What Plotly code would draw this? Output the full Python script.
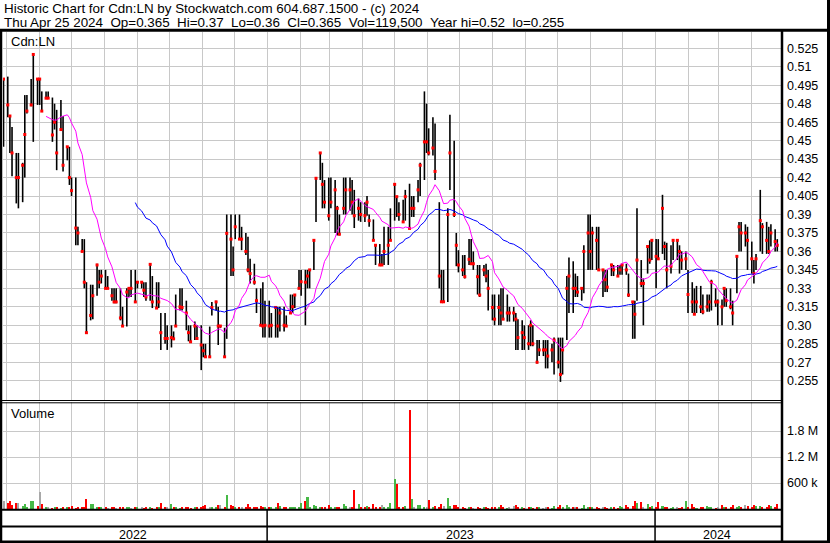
import pandas as pd
import numpy as np
import plotly.graph_objects as go

W, H = 830, 543

# ---- data (every second trading day, Apr 2022 - Apr 25 2024) ----
highs = [
    0.50, 0.502, 0.47, 0.461, 0.44, 0.44, 0.432, 0.487, 0.487, 0.50,
    0.52, 0.50, 0.50, 0.49, 0.49, 0.49, 0.485, 0.48, 0.475, 0.483,
    0.47, 0.445, 0.445, 0.42, 0.42, 0.38, 0.37, 0.37, 0.335, 0.333,
    0.333, 0.35, 0.345, 0.345, 0.345, 0.34, 0.33, 0.33, 0.33, 0.33,
    0.315, 0.33, 0.33, 0.345, 0.345, 0.335, 0.335, 0.335, 0.335, 0.35,
    0.34, 0.335, 0.335, 0.31, 0.31, 0.30, 0.30, 0.295, 0.325, 0.33,
    0.33, 0.32, 0.30, 0.30, 0.303, 0.30, 0.30, 0.285, 0.285, 0.299,
    0.319, 0.32, 0.315, 0.30, 0.298, 0.39, 0.39, 0.364, 0.39, 0.39,
    0.38, 0.375, 0.372, 0.354, 0.35, 0.33, 0.33, 0.335, 0.32, 0.32,
    0.31, 0.315, 0.315, 0.315, 0.315, 0.308, 0.325, 0.325, 0.325, 0.345,
    0.345, 0.345, 0.345, 0.345, 0.37, 0.42, 0.44, 0.432, 0.418, 0.42,
    0.42, 0.418, 0.397, 0.39, 0.42, 0.42, 0.42, 0.418, 0.41, 0.403,
    0.40, 0.40, 0.405, 0.39, 0.386, 0.366, 0.366, 0.358, 0.38, 0.38,
    0.395, 0.415, 0.405, 0.40, 0.402, 0.41, 0.415, 0.405, 0.405, 0.418,
    0.432, 0.49, 0.48, 0.46, 0.469, 0.464, 0.40, 0.345, 0.345, 0.395,
    0.471, 0.45, 0.375, 0.361, 0.357, 0.357, 0.37, 0.37, 0.36, 0.349,
    0.349, 0.349, 0.35, 0.345, 0.325, 0.325, 0.325, 0.33, 0.33, 0.325,
    0.315, 0.315, 0.31, 0.305, 0.304, 0.30, 0.30, 0.304, 0.30, 0.288,
    0.288, 0.288, 0.288, 0.288, 0.285, 0.29, 0.29, 0.29, 0.29, 0.34,
    0.355, 0.352, 0.342, 0.34, 0.331, 0.365, 0.39, 0.39, 0.38, 0.38,
    0.38, 0.345, 0.345, 0.345, 0.35, 0.349, 0.349, 0.349, 0.35, 0.35,
    0.342, 0.319, 0.32, 0.395, 0.353, 0.338, 0.365, 0.369, 0.37, 0.37,
    0.37, 0.406, 0.368, 0.367, 0.365, 0.37, 0.37, 0.365, 0.36, 0.36,
    0.345, 0.335, 0.33, 0.332, 0.332, 0.325, 0.325, 0.325, 0.337, 0.33,
    0.321, 0.321, 0.331, 0.33, 0.33, 0.32, 0.356, 0.384, 0.384, 0.382,
    0.38, 0.368, 0.353, 0.358, 0.41, 0.383, 0.384, 0.38, 0.382, 0.378, 0.37,
]
lows = [
    0.445, 0.469, 0.44, 0.421, 0.399, 0.395, 0.40, 0.42, 0.472, 0.478,
    0.449, 0.479, 0.479, 0.474, 0.484, 0.484, 0.449, 0.459, 0.426, 0.459,
    0.425, 0.434, 0.414, 0.405, 0.365, 0.365, 0.36, 0.33, 0.294, 0.304,
    0.305, 0.324, 0.33, 0.334, 0.33, 0.33, 0.32, 0.318, 0.318, 0.304,
    0.299, 0.299, 0.323, 0.323, 0.319, 0.33, 0.33, 0.323, 0.32, 0.32,
    0.314, 0.314, 0.314, 0.28, 0.285, 0.28, 0.282, 0.288, 0.299, 0.312,
    0.312, 0.296, 0.287, 0.286, 0.288, 0.288, 0.2636, 0.274, 0.274, 0.274,
    0.308, 0.312, 0.284, 0.298, 0.274, 0.289, 0.34, 0.34, 0.37, 0.37,
    0.361, 0.357, 0.343, 0.334, 0.333, 0.31, 0.30, 0.29, 0.29, 0.29,
    0.29, 0.29, 0.29, 0.295, 0.295, 0.299, 0.31, 0.31, 0.314, 0.33,
    0.324, 0.30, 0.33, 0.33, 0.345, 0.384, 0.418, 0.395, 0.395, 0.385,
    0.395, 0.375, 0.373, 0.373, 0.39, 0.39, 0.393, 0.39, 0.379, 0.385,
    0.384, 0.384, 0.389, 0.38, 0.369, 0.349, 0.349, 0.349, 0.349, 0.349,
    0.369, 0.385, 0.388, 0.385, 0.384, 0.385, 0.378, 0.388, 0.388, 0.40,
    0.405, 0.418, 0.44, 0.438, 0.438, 0.418, 0.33, 0.319, 0.319, 0.319,
    0.41, 0.388, 0.348, 0.343, 0.34, 0.338, 0.349, 0.349, 0.345, 0.325,
    0.323, 0.34, 0.335, 0.312, 0.304, 0.30, 0.30, 0.30, 0.305, 0.303,
    0.303, 0.303, 0.28, 0.28, 0.28, 0.28, 0.28, 0.283, 0.283, 0.269,
    0.275, 0.275, 0.265, 0.265, 0.27, 0.26, 0.265, 0.254, 0.26, 0.288,
    0.31, 0.31, 0.323, 0.323, 0.32, 0.326, 0.345, 0.345, 0.345, 0.345,
    0.345, 0.323, 0.327, 0.327, 0.34, 0.34, 0.34, 0.341, 0.341, 0.341,
    0.323, 0.289, 0.289, 0.32, 0.331, 0.30, 0.342, 0.35, 0.353, 0.33,
    0.353, 0.358, 0.353, 0.33, 0.342, 0.353, 0.353, 0.342, 0.345, 0.345,
    0.31, 0.31, 0.309, 0.31, 0.31, 0.309, 0.311, 0.311, 0.312, 0.315,
    0.30, 0.30, 0.315, 0.315, 0.313, 0.30, 0.326, 0.36, 0.36, 0.364,
    0.345, 0.342, 0.334, 0.345, 0.36, 0.358, 0.358, 0.358, 0.364, 0.36, 0.36,
]
closes = [
    0.50, 0.479, 0.47, 0.44, 0.42, 0.42, 0.43, 0.455, 0.474, 0.479,
    0.52, 0.50, 0.50, 0.474, 0.4845, 0.4845, 0.4546, 0.465, 0.44, 0.459,
    0.43, 0.445, 0.42, 0.4094, 0.379, 0.375, 0.36, 0.335, 0.294, 0.308,
    0.324, 0.349, 0.335, 0.34, 0.33, 0.33, 0.324, 0.319, 0.319, 0.306,
    0.2994, 0.327, 0.33, 0.33, 0.319, 0.335, 0.335, 0.3285, 0.323, 0.3495,
    0.319, 0.314, 0.319, 0.294, 0.2893, 0.2893, 0.29, 0.289, 0.2994, 0.315,
    0.3145, 0.31, 0.294, 0.2866, 0.2994, 0.2893, 0.284, 0.2793, 0.2744, 0.2744,
    0.3145, 0.319, 0.2994, 0.2994, 0.2744, 0.3747, 0.37, 0.345, 0.38, 0.37,
    0.37, 0.36, 0.345, 0.342, 0.335, 0.32, 0.30, 0.2994, 0.30, 0.2994,
    0.30, 0.3145, 0.2994, 0.31, 0.30, 0.2994, 0.31, 0.3151, 0.3246, 0.33,
    0.3354, 0.335, 0.34, 0.345, 0.369, 0.4194, 0.44, 0.4145, 0.40, 0.389,
    0.40, 0.41, 0.395, 0.374, 0.395, 0.41, 0.41, 0.40, 0.389, 0.395,
    0.39, 0.389, 0.40, 0.385, 0.369, 0.365, 0.349, 0.349, 0.36, 0.365,
    0.369, 0.4145, 0.4045, 0.39, 0.384, 0.4045, 0.3787, 0.395, 0.395, 0.41,
    0.43, 0.449, 0.449, 0.44, 0.444, 0.425, 0.34, 0.3191, 0.3191, 0.39,
    0.44, 0.39, 0.365, 0.349, 0.345, 0.3395, 0.3536, 0.35, 0.35, 0.3395,
    0.3246, 0.345, 0.34, 0.33, 0.3145, 0.305, 0.3145, 0.31, 0.305, 0.31,
    0.31, 0.31, 0.305, 0.29, 0.294, 0.29, 0.285, 0.30, 0.285, 0.27,
    0.28, 0.28, 0.28, 0.275, 0.28, 0.288, 0.27, 0.26, 0.28, 0.33,
    0.34, 0.33, 0.33, 0.327, 0.33, 0.36, 0.375, 0.36, 0.375, 0.369,
    0.345, 0.345, 0.337, 0.331, 0.349, 0.345, 0.34, 0.345, 0.349, 0.345,
    0.3246, 0.319, 0.309, 0.353, 0.334, 0.334, 0.364, 0.353, 0.369, 0.356,
    0.354, 0.395, 0.364, 0.345, 0.348, 0.369, 0.369, 0.36, 0.353, 0.354,
    0.325, 0.319, 0.309, 0.319, 0.315, 0.311, 0.315, 0.319, 0.335, 0.319,
    0.319, 0.315, 0.33, 0.32, 0.315, 0.31, 0.356, 0.38, 0.375, 0.375,
    0.369, 0.354, 0.342, 0.354, 0.385, 0.38, 0.369, 0.36, 0.375, 0.368, 0.365,
]
volumes_k = [
    185, 150, 185, 90, 150, 140, 60, 110, 40, 195,
    180, 60, 400, 110, 30, 25, 20, 30, 25, 20,
    25, 40, 30, 60, 20, 35, 40, 30, 230, 120,
    120, 40, 30, 25, 45, 20, 30, 35, 20, 25,
    40, 25, 30, 20, 35, 25, 30, 20, 40, 25,
    20, 30, 25, 150, 30, 25, 120, 30, 25, 20,
    30, 25, 40, 20, 30, 25, 40, 60, 100, 45,
    30, 25, 100, 100, 40, 320, 100, 60, 40, 30,
    40, 30, 120, 35, 30, 40, 60, 30, 40, 25,
    30, 40, 150, 60, 40, 30, 35, 40, 30, 50,
    130, 195, 280, 40, 100, 60, 40, 30, 35, 100,
    30, 40, 50, 40, 120, 60, 35, 30, 440, 120,
    40, 30, 60, 40, 120, 30, 40, 100, 30, 40,
    140, 690, 575, 40, 30, 60, 2280, 230, 30, 100,
    90, 40, 30, 210, 40, 70, 40, 120, 80, 250,
    60, 90, 100, 30, 25, 20, 30, 25, 20, 30,
    20, 25, 30, 20, 25, 30, 25, 100, 30, 20,
    25, 80, 90, 30, 25, 20, 30, 25, 20, 30,
    25, 20, 30, 25, 20, 75, 30, 90, 25, 90,
    30, 40, 25, 30, 20, 100, 40, 30, 25, 30,
    20, 30, 25, 20, 30, 25, 20, 75, 30, 90,
    25, 60, 190, 130, 170, 40, 110, 30, 60, 25,
    170, 70, 30, 25, 20, 30, 25, 20, 40, 190,
    30, 120, 25, 20, 30, 40, 75, 30, 25, 20,
    30, 100, 40, 30, 25, 100, 40, 60, 50, 90,
    60, 50, 100, 70, 60, 50, 40, 90, 60, 50, 110,
]
price_ticks = [0.255, 0.27, 0.285, 0.30, 0.315, 0.33, 0.345, 0.36, 0.375,
               0.39, 0.405, 0.42, 0.435, 0.45, 0.465, 0.48, 0.495, 0.51, 0.525]
price_tick_text = ["0.255", "0.27", "0.285", "0.30", "0.315", "0.33", "0.345",
                   "0.36", "0.375", "0.39", "0.405", "0.42", "0.435", "0.45",
                   "0.465", "0.48", "0.495", "0.51", "0.525"]
vol_ticks = [600000, 1200000, 1800000]
vol_tick_text = ["600 k", "1.2 M", "1.8 M"]
years = ["2022", "2023", "2024"]
title1 = "Historic Chart for Cdn:LN by Stockwatch.com 604.687.1500 - (c) 2024"
title2 = ("Thu Apr 25 2024  Op=0.365  Hi=0.37  Lo=0.36  Cl=0.365  "
          "Vol=119,500  Year hi=0.52  lo=0.255")

# ---- derived ----
n = len(closes)
bdays = pd.bdate_range("2022-04-27", "2024-04-25")
dates = list(bdays[::-1][::2][::-1])[-n:]

cl = pd.Series(closes)
ma_short = cl.rolling(15).mean()
ma_long = cl.rolling(45).mean()
diff = cl.diff().fillna(0).values
vol_colors = ["#46b946" if d > 1e-9 else ("#ff0000" if d < -1e-9 else "#a8a8a8") for d in diff]
volumes = [v * 1000 for v in volumes_k]

bx, by = [], []
for d, hi, lo in zip(dates, highs, lows):
    bx += [d, d, None]
    by += [lo, hi, None]

FONT = "Liberation Sans, Arial, sans-serif"
fig = go.Figure()
fig.add_trace(go.Scatter(x=bx, y=by, mode="lines", line=dict(color="black", width=1.6),
                         hoverinfo="skip", xaxis="x", yaxis="y"))
fig.add_trace(go.Scatter(x=dates, y=closes, mode="markers",
                         marker=dict(symbol="square", size=3, color="#ff0000", line=dict(width=0)),
                         xaxis="x", yaxis="y"))
fig.add_trace(go.Scatter(x=dates, y=ma_long, mode="lines", line=dict(color="#0000ff", width=1),
                         xaxis="x", yaxis="y"))
fig.add_trace(go.Scatter(x=dates, y=ma_short, mode="lines", line=dict(color="#ff00ff", width=1),
                         xaxis="x", yaxis="y"))
fig.add_trace(go.Bar(x=dates, y=volumes, marker=dict(color=vol_colors, line=dict(width=0)),
                     width=1.9 * 86400000, xaxis="x2", yaxis="y2"))

def px(x):
    return x / W

def py(y):
    return 1 - y / H

month_ticks = pd.date_range("2022-05-01", "2024-04-01", freq="MS")
xr = ["2022-04-27 12:00", "2024-04-28 12:00"]
grid = "#c8c8c8"
xcommon = dict(range=xr, tickvals=month_ticks, showticklabels=False, ticks="",
               showgrid=True, gridcolor=grid, gridwidth=1, zeroline=False,
               showline=False, domain=[px(3), px(781)])

fig.update_layout(
    width=W, height=H, margin=dict(l=0, r=0, t=0, b=0),
    paper_bgcolor="white", plot_bgcolor="white", showlegend=False,
    font=dict(family=FONT, size=12.5, color="black"),
    bargap=0,
    xaxis=dict(anchor="y", **xcommon),
    xaxis2=dict(anchor="y2", matches="x", **xcommon),
    yaxis=dict(domain=[py(400), py(32)], range=[0.23932, 0.53824], side="right",
               tickvals=price_ticks, ticktext=price_tick_text, ticks="",
               showgrid=True, gridcolor=grid, gridwidth=1, zeroline=False,
               showline=False, ticklabelstandoff=5,
               tickfont=dict(family=FONT, size=12.5, color="black")),
    yaxis2=dict(domain=[py(509), py(402)], range=[0, 2469231], side="right",
                tickvals=vol_ticks, ticktext=vol_tick_text, ticks="",
                showgrid=True, gridcolor=grid, gridwidth=1, zeroline=False,
                showline=False, ticklabelstandoff=5,
                tickfont=dict(family=FONT, size=12.5, color="black")),
)

shapes = []
def hline(y, x0, x1, w):
    shapes.append(dict(type="line", xref="paper", yref="paper", x0=px(x0), x1=px(x1),
                       y0=py(y), y1=py(y), line=dict(color="black", width=w)))

def vline(x, y0, y1, w):
    shapes.append(dict(type="line", xref="paper", yref="paper", x0=px(x), x1=px(x),
                       y0=py(y0), y1=py(y1), line=dict(color="black", width=w)))

hline(30.2, 0, 830, 3)
vline(1, 29, 543, 2.5)
vline(782, 29, 543, 2.5)
vline(828.5, 0, 543, 3)
hline(400.5, 0, 782, 1)
hline(402.8, 0, 782, 1)
hline(509.8, 0, 782, 2)
hline(526.6, 0, 782, 2)
hline(541.8, 0, 830, 2.5)
for d in ["2023-01-01", "2024-01-01"]:
    shapes.append(dict(type="line", xref="x", yref="paper", x0=d, x1=d,
                       y0=py(509), y1=py(542), line=dict(color="black", width=1.5)))
fig.update_layout(shapes=shapes)

ann = []
def text(x, y, s, size=13.4, anchor="left"):
    ann.append(dict(x=px(x), y=py(y), xref="paper", yref="paper", text=s.replace("  ", "\u00a0\u00a0"),
                    showarrow=False, xanchor=anchor, yanchor="middle",
                    font=dict(family=FONT, size=size, color="black")))

text(1.5, 9, title1)
text(1.5, 22.5, title2)
text(9, 41, "Cdn:LN", 13)
text(9, 413.5, "Volume", 13)
text(133, 535, years[0], 12.5, "center")
text(460, 535, years[1], 12.5, "center")
text(717, 535, years[2], 12.5, "center")
fig.update_layout(annotations=ann)

fig.write_html("out.html", config={"displayModeBar": False},
               post_script="document.body.style.margin='0';document.body.style.padding='0';"
                           "document.body.style.overflow='hidden';")
